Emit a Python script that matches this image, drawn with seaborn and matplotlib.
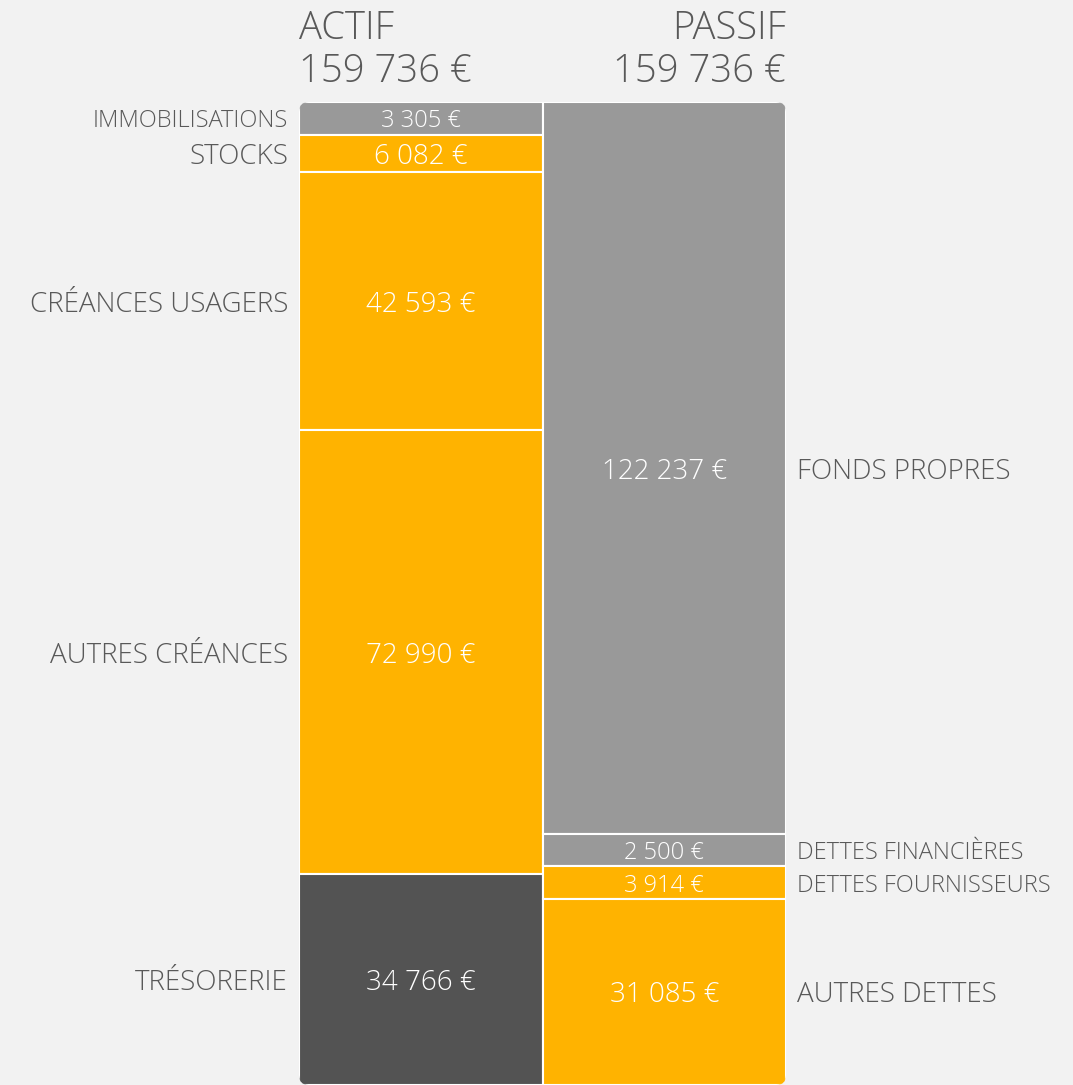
import matplotlib
matplotlib.use('Agg')
import matplotlib.pyplot as plt
from matplotlib.patches import FancyBboxPatch
import pandas as pd
import seaborn as sns

sides = ['ACTIF', 'PASSIF']
actif_labels = ['IMMOBILISATIONS', 'STOCKS', 'CRÉANCES USAGERS', 'AUTRES CRÉANCES', 'TRÉSORERIE']
actif_values = [3305, 6082, 42593, 72990, 34766]
actif_colors = ['#999999', '#FFB300', '#FFB300', '#FFB300', '#535353']
passif_labels = ['FONDS PROPRES', 'DETTES FINANCIÈRES', 'DETTES FOURNISSEURS', 'AUTRES DETTES']
passif_values = [122237, 2500, 3914, 31085]
passif_colors = ['#999999', '#999999', '#FFB300', '#FFB300']
total = 159736

# very small blocks get a minimum height so their amount stays readable
MIN_BLOCK = 5400

BG = '#F2F2F2'
TXT = '#595959'


def fmt(v):
    return f'{v:,}'.replace(',', ' ') + ' €'


rows = []
for side, labels, values, colors in [('ACTIF', actif_labels, actif_values, actif_colors),
                                     ('PASSIF', passif_labels, passif_values, passif_colors)]:
    disp = [max(v, MIN_BLOCK) for v in values]
    s = sum(disp)
    start = 0.0
    for lab, v, d, c in zip(labels, values, disp, colors):
        rows.append(dict(side=side, label=lab, value=v, height=d / s, bottom=start,
                         color=c, small=v < MIN_BLOCK))
        start += d / s
df = pd.DataFrame(rows)

sns.set_theme(style='white')
plt.rcParams['font.family'] = ['Open Sans', 'DejaVu Sans']

fig = plt.figure(figsize=(10.73, 10.85), dpi=100, facecolor=BG)
ax = fig.add_axes([299 / 1073, 0, 487 / 1073, 983 / 1085])
ax.set_facecolor(BG)

for _, r in df.iterrows():
    sns.barplot(x=[r['side']], y=[r['height']], bottom=r['bottom'], order=sides,
                color=r['color'], saturation=1, width=1.0, errorbar=None,
                edgecolor='white', linewidth=1.5, ax=ax)

ax.set_xlim(-0.5, 1.5)
ax.set_ylim(1, 0)
ax.axis('off')

# rounded outer corners
clip = FancyBboxPatch((-0.5, 0), 2, 1, boxstyle='round,pad=0,rounding_size=0.04',
                      mutation_aspect=243 / 983, transform=ax.transData,
                      facecolor='none', edgecolor='none')
ax.add_patch(clip)
for p in ax.patches:
    if p is not clip:
        p.set_clip_path(clip)

off = 11 / 243
for _, r in df.iterrows():
    xc = sides.index(r['side'])
    yc = r['bottom'] + r['height'] / 2
    size = 17 if r['small'] else 20
    ax.text(xc, yc, fmt(r['value']), color='white', fontsize=size, fontweight='light',
            ha='center', va='center_baseline')
    if r['side'] == 'ACTIF':
        ax.text(-0.5 - off, yc, r['label'], color=TXT, fontsize=size, fontweight='light',
                ha='right', va='center_baseline')
    else:
        ax.text(1.5 + off, yc, r['label'], color=TXT, fontsize=size, fontweight='light',
                ha='left', va='center_baseline')

# headers
for xpos, ha, title in [(299 / 1073, 'left', 'ACTIF'), (786 / 1073, 'right', 'PASSIF')]:
    fig.text(xpos, 1 - 39 / 1085, title, color=TXT, fontsize=27.5, fontweight='light',
             ha=ha, va='baseline')
    fig.text(xpos, 1 - 82 / 1085, fmt(total), color=TXT, fontsize=27.5, fontweight='light',
             ha=ha, va='baseline')

fig.savefig('out.png', dpi=100, facecolor=BG)
